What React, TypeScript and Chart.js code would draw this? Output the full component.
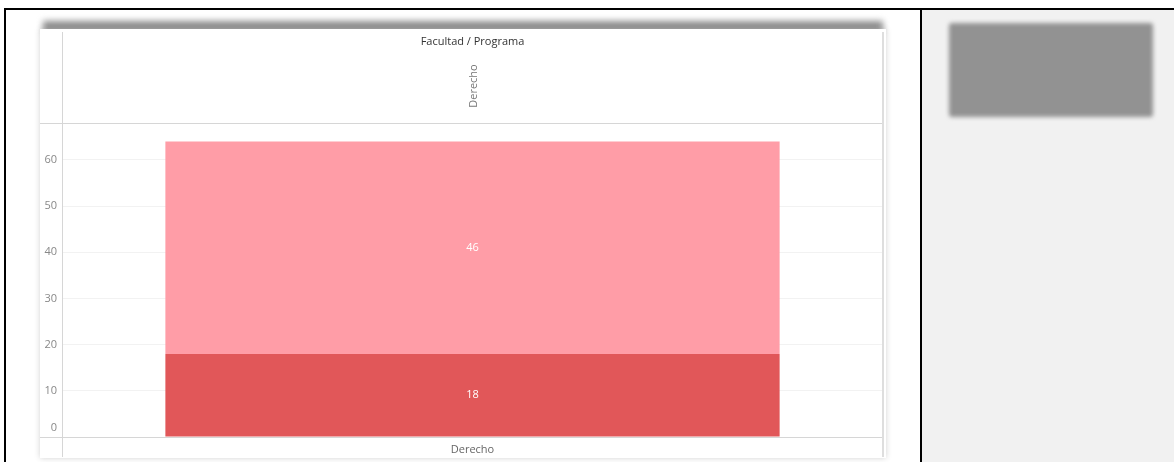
import React, { useEffect, useRef } from "react";
import { Chart, registerables } from "chart.js";

Chart.register(...registerables);

const categories = ["Derecho"];
const seriesLower = [18];
const seriesUpper = [46];
const yTicks = [0, 10, 20, 30, 40, 50, 60];
const yMax = 68;
const headerTitle = "Facultad / Programa";

const FONT = "'Open Sans', sans-serif";

const framePlugin = {
  id: "framePlugin",
  afterDatasetsDraw(chart: any) {
    const { ctx, chartArea, scales } = chart;
    ctx.save();
    ctx.strokeStyle = "#d6d6d6";
    ctx.lineWidth = 1;
    // header bottom line
    ctx.beginPath();
    ctx.moveTo(0, chartArea.top + 0.5);
    ctx.lineTo(chartArea.right, chartArea.top + 0.5);
    ctx.stroke();
    // x axis line
    ctx.beginPath();
    ctx.moveTo(0, chartArea.bottom + 0.5);
    ctx.lineTo(chartArea.right, chartArea.bottom + 0.5);
    ctx.stroke();
    // left vertical
    ctx.beginPath();
    ctx.moveTo(chartArea.left - 0.5, 3);
    ctx.lineTo(chartArea.left - 0.5, chart.height - 1);
    ctx.stroke();
    // right vertical
    ctx.strokeStyle = "#dedede";
    ctx.lineWidth = 2;
    ctx.beginPath();
    ctx.moveTo(chartArea.right + 1, 3);
    ctx.lineTo(chartArea.right + 1, chart.height - 1);
    ctx.stroke();

    // header title
    const cx = (chartArea.left + chartArea.right) / 2;
    ctx.fillStyle = "#333333";
    ctx.font = `11px ${FONT}`;
    ctx.textAlign = "center";
    ctx.textBaseline = "middle";
    ctx.fillText(headerTitle, cx, 13);

    // header category labels (rotated)
    const xs = scales.x;
    ctx.fillStyle = "#777777";
    categories.forEach((c, i) => {
      const px = xs.getPixelForValue(i);
      ctx.save();
      ctx.translate(px + 1, 57);
      ctx.rotate(-Math.PI / 2);
      ctx.textAlign = "center";
      ctx.textBaseline = "middle";
      ctx.fillText(c, 0, 0);
      ctx.restore();
    });

    // zero tick label placed above the axis line (Tableau style)
    const ys = scales.y;
    ctx.fillStyle = "#888888";
    ctx.textAlign = "right";
    ctx.fillText(String(yTicks[0]), chartArea.left - 6, ys.getPixelForValue(yTicks[0]) - 9);

    // value labels in segments
    ctx.fillStyle = "#ffffff";
    ctx.textAlign = "center";
    ctx.font = `11px ${FONT}`;
    chart.data.datasets.forEach((ds: any, di: number) => {
      const meta = chart.getDatasetMeta(di);
      meta.data.forEach((el: any, i: number) => {
        const v = ds.data[i];
        const y = (el.y + el.base) / 2;
        ctx.fillText(String(v), el.x, y);
      });
    });
    ctx.restore();
  },
};

function BarChart() {
  const ref = useRef<HTMLCanvasElement | null>(null);
  useEffect(() => {
    if (!ref.current) return;
    const chart = new Chart(ref.current, {
      type: "bar",
      data: {
        labels: categories,
        datasets: [
          {
            label: "A",
            data: seriesLower,
            backgroundColor: "#E15759",
            barPercentage: 0.75,
            categoryPercentage: 1,
          },
          {
            label: "B",
            data: seriesUpper,
            backgroundColor: "#FF9DA7",
            barPercentage: 0.75,
            categoryPercentage: 1,
          },
        ],
      },
      options: {
        responsive: false,
        animation: false,
        devicePixelRatio: 1,
        layout: { padding: { top: 94, right: 4, left: 0, bottom: 0 } },
        plugins: {
          legend: { display: false },
          tooltip: { enabled: false },
          title: { display: false },
        },
        scales: {
          x: {
            stacked: true,
            grid: { display: false, drawTicks: false },
            border: { display: false },
            ticks: {
              color: "#666666",
              font: { family: FONT, size: 11 },
              padding: 6,
              maxRotation: 0,
            },
            afterFit: (s: any) => {
              s.height = 21;
            },
          },
          y: {
            stacked: true,
            min: 0,
            max: yMax,
            grid: {
              color: (c: any) => (c.tick && c.tick.value === 0 ? "rgba(0,0,0,0)" : "#f2f2f2"),
              drawTicks: false,
              lineWidth: 1,
            },
            border: { display: false },
            ticks: {
              color: "#888888",
              font: { family: FONT, size: 11 },
              padding: 6,
              callback: (v: any) => (v === 0 ? "" : String(v)),
            },
            afterBuildTicks: (s: any) => {
              s.ticks = yTicks.map((v) => ({ value: v }));
            },
            afterFit: (s: any) => {
              s.width = 23;
            },
          },
        },
      },
      plugins: [framePlugin],
    });
    return () => chart.destroy();
  }, []);
  return <canvas ref={ref} width={846} height={429} style={{ display: "block" }} />;
}

export default function App() {
  return (
    <div
      style={{
        position: "absolute",
        left: 0,
        top: 0,
        width: 1174,
        height: 462,
        overflow: "hidden",
        background: "#ffffff",
      }}
    >
      {/* outer black frame */}
      <div style={{ position: "absolute", left: 4, top: 8, width: 1170, height: 2, background: "#000" }} />
      <div style={{ position: "absolute", left: 4, top: 8, width: 2, height: 454, background: "#000" }} />
      <div style={{ position: "absolute", left: 920, top: 8, width: 2, height: 454, background: "#000" }} />
      {/* right panel */}
      <div style={{ position: "absolute", left: 922, top: 10, width: 252, height: 452, background: "#f1f1f1" }}>
        <div
          style={{
            position: "absolute",
            left: 27,
            top: 13,
            width: 204,
            height: 94,
            background: "#929292",
            borderRadius: 3,
            filter: "blur(2px)",
          }}
        />
      </div>
      {/* card top shadow */}
      <div
        style={{
          position: "absolute",
          left: 43,
          top: 21,
          width: 840,
          height: 10,
          background: "#8c8c8c",
          filter: "blur(3px)",
        }}
      />
      {/* card */}
      <div
        style={{
          position: "absolute",
          left: 40,
          top: 29,
          width: 846,
          height: 429,
          background: "#ffffff",
          boxShadow: "0 0 6px rgba(0,0,0,0.18)",
        }}
      >
        <BarChart />
      </div>
    </div>
  );
}
